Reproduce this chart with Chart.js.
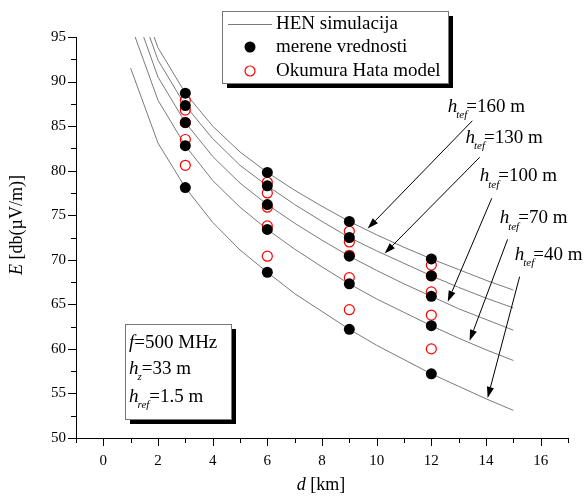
<!DOCTYPE html>
<html lang="sr">
<head>
    <meta charset="UTF-8">
    <title>HEN simulacija - E(d)</title>
    <script src="https://cdn.jsdelivr.net/npm/chart.js"></script>
    <style>
        html, body { margin: 0; padding: 0; background: #fff; }
        #fieldChart { display: block; }
    </style>
</head>
<body>
    <canvas id="fieldChart" width="587" height="499"></canvas>
    <script>
        // rastojanje [km] za simulaciju i za merenja
        const simDist = [1, 2, 3, 4, 5, 6, 7, 8, 9, 10, 11, 12, 13, 14, 15];
        const measDist = [3, 6, 9, 12];
        const heights = [160, 130, 100, 70, 40];

        // HEN simulacija, E [dB(uV/m)]
        const hen160 = [102.3, 93.8, 88.7, 85.0, 82.1, 79.8, 77.8, 76.0, 74.3, 72.8, 71.4, 70.1, 68.9, 67.7, 66.6];
        const hen130 = [101.0, 92.4, 87.3, 83.6, 80.6, 78.3, 76.2, 74.3, 72.5, 71.0, 69.6, 68.2, 66.9, 65.7, 64.6];
        const hen100 = [99.1, 90.5, 85.4, 81.6, 78.6, 76.2, 74.1, 72.2, 70.4, 68.8, 67.3, 65.9, 64.5, 63.3, 62.1];
        const hen70  = [96.4, 87.9, 82.8, 78.9, 75.9, 73.4, 71.2, 69.2, 67.3, 65.6, 64.1, 62.6, 61.2, 59.9, 58.7];
        const hen40  = [91.5, 83.1, 78.1, 74.2, 71.1, 68.6, 66.2, 64.2, 62.2, 60.4, 58.8, 57.2, 55.8, 54.4, 53.1];

        // merene vrednosti
        const mer160 = [88.7, 79.8, 74.3, 70.1];
        const mer130 = [87.3, 78.3, 72.5, 68.2];
        const mer100 = [85.4, 76.2, 70.4, 65.9];
        const mer70  = [82.8, 73.4, 67.3, 62.6];
        const mer40  = [78.1, 68.6, 62.2, 57.2];

        // Okumura Hata model
        const oh160 = [87.9, 78.7, 73.2, 69.4];
        const oh130 = [86.8, 77.5, 72.0, 68.2];
        const oh100 = [85.4, 75.9, 70.5, 66.4];
        const oh70  = [83.5, 73.8, 68.0, 63.8];
        const oh40  = [80.6, 70.4, 64.4, 60.0];

        const xTicks = [0, 2, 4, 6, 8, 10, 12, 14, 16];
        const yTicks = [50, 55, 60, 65, 70, 75, 80, 85, 90, 95];

        const serif = '"Liberation Serif", "DejaVu Serif", serif';

        const henAll = [hen160, hen130, hen100, hen70, hen40];
        const merAll = [mer160, mer130, mer100, mer70, mer40];
        const ohAll = [oh160, oh130, oh100, oh70, oh40];

        const pairs = (xs, ys) => xs.map((x, i) => ({ x: x, y: ys[i] }));

        // strelice za oznake h_tef (rep -> vrh), u koordinatama podataka
        const arrows = [
            { label: '=160 m', text: [12.6, 86.6], from: [13.5, 85.6], to: [9.67, 73.5] },
            { label: '=130 m', text: [13.25, 83.1], from: [13.77, 81.5], to: [10.29, 70.7] },
            { label: '=100 m', text: [13.77, 78.8], from: [14.21, 76.9], to: [12.6, 65.3] },
            { label: '=70 m',  text: [14.5, 74.1], from: [14.79, 72.3], to: [13.4, 60.9] },
            { label: '=40 m',  text: [15.05, 70.0], from: [15.23, 68.1], to: [14.06, 54.5] }
        ];

        const datasets = [];
        henAll.forEach((arr, i) => {
            datasets.push({
                type: 'line',
                label: 'HEN simulacija ' + heights[i],
                data: pairs(simDist, arr),
                borderColor: '#7a7a7a',
                borderWidth: 1,
                pointRadius: 0,
                tension: 0,
                fill: false,
                order: 3
            });
        });
        ohAll.forEach((arr, i) => {
            datasets.push({
                type: 'scatter',
                label: 'Okumura Hata model ' + heights[i],
                data: pairs(measDist, arr),
                pointStyle: 'circle',
                pointRadius: 5,
                pointBorderWidth: 1.2,
                pointBorderColor: '#ff0000',
                pointBackgroundColor: 'rgba(255,255,255,0)',
                order: 2
            });
        });
        merAll.forEach((arr, i) => {
            datasets.push({
                type: 'scatter',
                label: 'merene vrednosti ' + heights[i],
                data: pairs(measDist, arr),
                pointStyle: 'circle',
                pointRadius: 5.5,
                pointBorderWidth: 0,
                pointBackgroundColor: '#000',
                order: 1
            });
        });

        // crta niz delova teksta (obican / kurziv / indeks)
        function richText(ctx, x, y, parts, size) {
            let cx = x;
            parts.forEach(p => {
                const s = p.sub ? size * 0.58 : size;
                ctx.font = (p.it ? 'italic ' : '') + s + 'px ' + serif;
                ctx.fillText(p.t, cx, y + (p.sub ? size * 0.33 : 0));
                cx += ctx.measureText(p.t).width + (p.gap || 0);
            });
            return cx;
        }

        function arrow(ctx, x1, y1, x2, y2) {
            const ang = Math.atan2(y2 - y1, x2 - x1);
            const len = 11, w = 3.6;
            const bx = x2 - len * Math.cos(ang), by = y2 - len * Math.sin(ang);
            ctx.beginPath();
            ctx.moveTo(x1, y1);
            ctx.lineTo(bx, by);
            ctx.strokeStyle = '#000';
            ctx.lineWidth = 1;
            ctx.stroke();
            ctx.beginPath();
            ctx.moveTo(x2, y2);
            ctx.lineTo(bx + w * Math.sin(ang), by - w * Math.cos(ang));
            ctx.lineTo(bx - w * Math.sin(ang), by + w * Math.cos(ang));
            ctx.closePath();
            ctx.fillStyle = '#000';
            ctx.fill();
        }

        function shadowBox(ctx, x, y, w, h) {
            ctx.fillStyle = '#000';
            ctx.fillRect(x + 5, y + 5, w, h);
            ctx.fillStyle = '#fff';
            ctx.fillRect(x, y, w, h);
            ctx.strokeStyle = '#777';
            ctx.lineWidth = 1;
            ctx.strokeRect(x + 0.5, y + 0.5, w, h);
        }

        const decorPlugin = {
            id: 'decor',
            afterDraw(chart) {
                const ctx = chart.ctx;
                const xs = chart.scales.x, ys = chart.scales.y;
                ctx.save();

                // podeoci (veliki i mali)
                ctx.strokeStyle = '#000';
                ctx.lineWidth = 1;
                xs.ticks.forEach(t => {
                    const px = Math.round(xs.getPixelForValue(t.value)) + 0.5;
                    const big = xTicks.includes(t.value);
                    ctx.beginPath();
                    ctx.moveTo(px, ys.bottom);
                    ctx.lineTo(px, ys.bottom + (big ? 8 : 5));
                    ctx.stroke();
                });
                ys.ticks.forEach(t => {
                    const py = Math.round(ys.getPixelForValue(t.value)) + 0.5;
                    const big = yTicks.includes(t.value);
                    ctx.beginPath();
                    ctx.moveTo(xs.left, py);
                    ctx.lineTo(xs.left - (big ? 8 : 5), py);
                    ctx.stroke();
                });

                // oznake ose
                ctx.fillStyle = '#000';
                ctx.textBaseline = 'alphabetic';
                ctx.font = 'italic 18px ' + serif;
                const dW = ctx.measureText('d').width;
                ctx.font = '18px ' + serif;
                const kmW = ctx.measureText(' [km]').width;
                richText(ctx, 321 - (dW + kmW) / 2, 490, [{ t: 'd', it: true }, { t: ' [km]' }], 18);

                ctx.save();
                ctx.translate(22, 225);
                ctx.rotate(-Math.PI / 2);
                ctx.font = 'italic 18px ' + serif;
                const eW = ctx.measureText('E').width;
                ctx.font = '18px ' + serif;
                const restW = ctx.measureText(' [db(\u00b5V/m)]').width;
                richText(ctx, -(eW + restW) / 2, 0, [{ t: 'E', it: true }, { t: ' [db(\u00b5V/m)]' }], 18);
                ctx.restore();

                // strelice i natpisi h_tef
                arrows.forEach(a => {
                    const tx = xs.getPixelForValue(a.text[0]), ty = ys.getPixelForValue(a.text[1]);
                    ctx.fillStyle = '#000';
                    richText(ctx, tx, ty, [
                        { t: 'h', it: true, gap: -1 },
                        { t: 'tef', it: true, sub: true, gap: -1 },
                        { t: a.label }
                    ], 19);
                    arrow(ctx,
                        xs.getPixelForValue(a.from[0]), ys.getPixelForValue(a.from[1]),
                        xs.getPixelForValue(a.to[0]), ys.getPixelForValue(a.to[1]));
                });

                // legenda
                shadowBox(ctx, 222, 11, 226, 72);
                ctx.beginPath();
                ctx.moveTo(228, 24.5);
                ctx.lineTo(272, 24.5);
                ctx.strokeStyle = '#7a7a7a';
                ctx.stroke();
                ctx.beginPath();
                ctx.arc(250, 47, 5.5, 0, Math.PI * 2);
                ctx.fillStyle = '#000';
                ctx.fill();
                ctx.beginPath();
                ctx.arc(250, 71, 5, 0, Math.PI * 2);
                ctx.strokeStyle = '#ff0000';
                ctx.lineWidth = 1.2;
                ctx.stroke();
                ctx.fillStyle = '#000';
                ctx.textBaseline = 'middle';
                ctx.font = '19px ' + serif;
                ctx.fillText('HEN simulacija', 276, 24);
                ctx.fillText('merene vrednosti', 276, 47);
                ctx.fillText('Okumura Hata model', 276, 71);

                // parametri
                ctx.textBaseline = 'alphabetic';
                shadowBox(ctx, 125, 324, 106, 95);
                ctx.fillStyle = '#000';
                richText(ctx, 129, 348, [{ t: 'f', it: true }, { t: '=500 MHz' }], 19);
                richText(ctx, 129, 374, [{ t: 'h', it: true, gap: -1 }, { t: 'z', it: true, sub: true }, { t: '=33 m' }], 19);
                richText(ctx, 129, 402, [{ t: 'h', it: true, gap: -1 }, { t: 'ref', it: true, sub: true }, { t: '=1.5 m' }], 19);

                ctx.restore();
            }
        };

        new Chart(document.getElementById('fieldChart').getContext('2d'), {
            data: { datasets: datasets },
            options: {
                responsive: false,
                animation: false,
                devicePixelRatio: 1,
                layout: { padding: { top: 37, right: 19, left: 0, bottom: 0 } },
                plugins: {
                    legend: { display: false },
                    tooltip: { enabled: false }
                },
                scales: {
                    x: {
                        type: 'linear',
                        min: -1,
                        max: 17,
                        afterFit: s => { s.height = 61; },
                        grid: { display: false, drawTicks: true, tickLength: 8 },
                        border: { display: true, color: '#000', width: 1 },
                        ticks: {
                            stepSize: 1,
                            autoSkip: false,
                            maxRotation: 0,
                            padding: 6,
                            color: '#000',
                            font: { family: serif, size: 15 },
                            callback: v => xTicks.includes(v) ? String(v) : ''
                        }
                    },
                    y: {
                        type: 'linear',
                        min: 50,
                        max: 95,
                        afterFit: s => { s.width = 76; },
                        grid: { display: false, drawTicks: true, tickLength: 8 },
                        border: { display: true, color: '#000', width: 1 },
                        ticks: {
                            stepSize: 2.5,
                            autoSkip: false,
                            padding: 2,
                            color: '#000',
                            font: { family: serif, size: 15 },
                            callback: v => yTicks.includes(v) ? String(v) : ''
                        }
                    }
                }
            },
            plugins: [decorPlugin]
        });
    </script>
</body>
</html>
